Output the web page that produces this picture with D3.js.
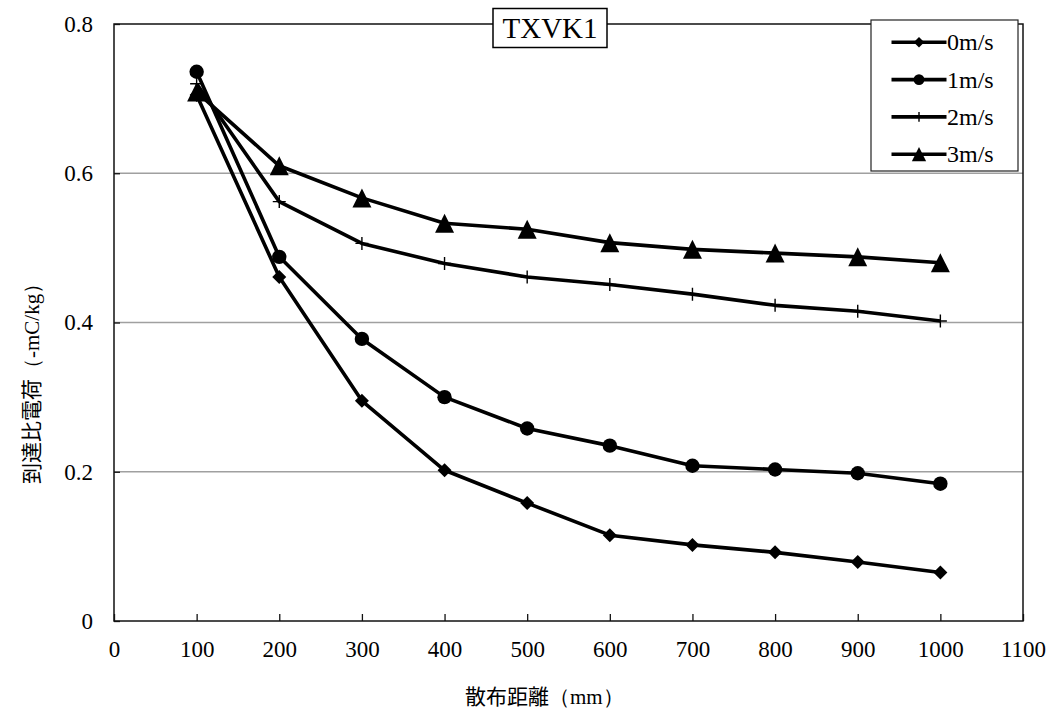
<!DOCTYPE html>
<html>
<head>
<meta charset="utf-8">
<script src="https://cdn.jsdelivr.net/npm/d3@7"></script>
<style>
  html, body { margin: 0; padding: 0; background: #fff; }
  svg { display: block; }
</style>
</head>
<body>
<svg id="chart" width="1056" height="713"></svg>
<script>
// Distance (mm) at which charge was measured
const distances = [100, 200, 300, 400, 500, 600, 700, 800, 900, 1000];

// Specific charge (-mC/kg) for each air speed
const speed0 = [0.705, 0.461, 0.295, 0.202, 0.158, 0.115, 0.102, 0.092, 0.079, 0.065];
const speed1 = [0.736, 0.488, 0.378, 0.300, 0.258, 0.235, 0.208, 0.203, 0.198, 0.184];
const speed2 = [0.720, 0.562, 0.506, 0.479, 0.461, 0.451, 0.438, 0.423, 0.415, 0.402];
const speed3 = [0.709, 0.610, 0.567, 0.533, 0.525, 0.507, 0.498, 0.493, 0.488, 0.480];

const seriesNames = ["0m/s", "1m/s", "2m/s", "3m/s"];
const seriesMarkers = ["diamond", "circle", "plus", "triangle"];

const xTicks = [0, 100, 200, 300, 400, 500, 600, 700, 800, 900, 1000, 1100];
const yTicks = [0, 0.2, 0.4, 0.6, 0.8];
const yTickLabels = ["0", "0.2", "0.4", "0.6", "0.8"];

const chartTitle = "TXVK1";

const seriesValues = [speed0, speed1, speed2, speed3];

const SERIF = "'Liberation Serif', 'Times New Roman', Times, serif";
const GOTHIC = "'Noto Sans CJK JP', 'Noto Sans', sans-serif";

const svg = d3.select("#chart");
const plot = { left: 114, right: 1023, top: 24, bottom: 621 };

const x = d3.scaleLinear().domain([0, 1100]).range([plot.left, plot.right]);
const y = d3.scaleLinear().domain([0, 0.8]).range([plot.bottom, plot.top]);

// Horizontal gridlines
svg.append("g")
  .selectAll("line")
  .data(yTicks.filter(d => d > 0 && d < 0.8))
  .join("line")
  .attr("x1", plot.left).attr("x2", plot.right)
  .attr("y1", d => y(d)).attr("y2", d => y(d))
  .attr("stroke", "#a0a0a0").attr("stroke-width", 1.4);

// Plot frame
svg.append("rect")
  .attr("x", plot.left).attr("y", plot.top)
  .attr("width", plot.right - plot.left).attr("height", plot.bottom - plot.top)
  .attr("fill", "none").attr("stroke", "#111").attr("stroke-width", 1.5);

// X axis: inward ticks, labels below
const xAxis = d3.axisBottom(x).tickValues(xTicks).tickSizeInner(-7).tickSizeOuter(0)
  .tickPadding(20).tickFormat(d3.format("d"));
const gx = svg.append("g").attr("transform", `translate(0,${plot.bottom})`)
  .call(xAxis)
  .attr("font-family", SERIF).attr("font-size", 23);
gx.select(".domain").remove();
gx.selectAll(".tick line").attr("stroke", "#111").attr("stroke-width", 1.3);
gx.selectAll(".tick text").attr("font-family", SERIF).attr("font-size", 23).attr("fill", "#000");

// Y axis: inward ticks, labels left
const yAxis = d3.axisLeft(y).tickValues(yTicks).tickSizeInner(-6).tickSizeOuter(0)
  .tickPadding(21).tickFormat((d, i) => yTickLabels[i]);
const gy = svg.append("g").attr("transform", `translate(${plot.left},0)`)
  .call(yAxis)
  .attr("font-family", SERIF).attr("font-size", 23);
gy.select(".domain").remove();
gy.selectAll(".tick line").attr("stroke", "#111").attr("stroke-width", 1.3);
gy.selectAll(".tick text").attr("font-family", SERIF).attr("font-size", 23).attr("fill", "#000");

// Marker shapes
function drawMarker(g, type, cx, cy, scale) {
  const s = scale || 1;
  if (type === "diamond") {
    const r = 7 * s;
    g.append("path").attr("d", `M${cx},${cy - r}L${cx + r},${cy}L${cx},${cy + r}L${cx - r},${cy}Z`)
      .attr("fill", "#000");
  } else if (type === "circle") {
    g.append("circle").attr("cx", cx).attr("cy", cy).attr("r", 7.2 * s).attr("fill", "#000");
  } else if (type === "plus") {
    const r = 6.5 * s;
    g.append("path").attr("d", `M${cx - r},${cy}H${cx + r}M${cx},${cy - r}V${cy + r}`)
      .attr("stroke", "#000").attr("stroke-width", 1.4).attr("fill", "none");
  } else if (type === "triangle") {
    const h = 19 * s, w = 19 * s;
    g.append("path").attr("d", `M${cx},${cy - h / 2}L${cx + w / 2},${cy + h / 2}L${cx - w / 2},${cy + h / 2}Z`)
      .attr("fill", "#000");
  }
}

const line = d3.line().x(d => x(d[0])).y(d => y(d[1]));

seriesValues.forEach((vals, si) => {
  const pts = distances.map((d, i) => [d, vals[i]]);
  const g = svg.append("g");
  g.append("path").attr("d", line(pts))
    .attr("fill", "none").attr("stroke", "#000").attr("stroke-width", 3.6)
    .attr("stroke-linejoin", "round");
  pts.forEach(p => drawMarker(g, seriesMarkers[si], x(p[0]), y(p[1]), 1));
});

// Title box
const titleG = svg.append("g");
titleG.append("rect").attr("x", 493).attr("y", 8.5).attr("width", 114).attr("height", 39)
  .attr("fill", "#fff").attr("stroke", "#000").attr("stroke-width", 1.5);
titleG.append("text").attr("font-family", SERIF).attr("x", 550).attr("y", 38)
  .attr("text-anchor", "middle").attr("font-size", 29).attr("fill", "#000").text(chartTitle);

// Legend
const legend = svg.append("g");
legend.append("rect").attr("x", 871).attr("y", 20).attr("width", 147).attr("height", 151)
  .attr("fill", "#fff").attr("stroke", "#222").attr("stroke-width", 1.2);
seriesNames.forEach((name, i) => {
  const ly = 42.3 + i * 37.3;
  legend.append("line").attr("x1", 891.5).attr("x2", 946.5).attr("y1", ly).attr("y2", ly)
    .attr("stroke", "#000").attr("stroke-width", 3.6);
  drawMarker(legend, seriesMarkers[i], 919, ly, 0.75);
  legend.append("text").attr("font-family", SERIF).attr("x", 947).attr("y", ly + 8)
    .attr("font-size", 24).attr("fill", "#000").text(name);
});

// Axis titles
svg.append("text")
  .attr("x", 465).attr("y", 704)
  .attr("font-size", 21).attr("fill", "#000")
  .call(t => {
    t.append("tspan").attr("font-family", GOTHIC).text("散布距離");
    t.append("tspan").attr("font-family", SERIF).text("（mm）");
  });

svg.append("text")
  .attr("transform", "translate(39,484) rotate(-90)")
  .attr("font-size", 21).attr("fill", "#000")
  .call(t => {
    t.append("tspan").attr("font-family", GOTHIC).text("到達比電荷");
    t.append("tspan").attr("font-family", SERIF).text("（-mC/kg）");
  });
</script>
</body>
</html>
